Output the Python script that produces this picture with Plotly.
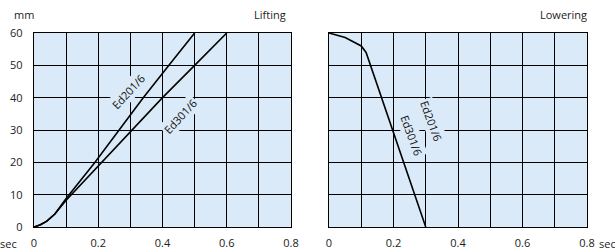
import plotly.graph_objects as go

# Data
lift_ed201_x = [0, 0.02, 0.04, 0.05, 0.065, 0.1, 0.19, 0.265, 0.34, 0.42, 0.5]
lift_ed201_y = [0, 0.7, 1.8, 2.7, 4.0, 8.8, 20, 30, 40, 50, 60]
lift_ed301_x = [0, 0.02, 0.04, 0.05, 0.065, 0.1, 0.21, 0.304, 0.4, 0.5, 0.6]
lift_ed301_y = [0, 0.7, 1.8, 2.7, 4.0, 8.3, 20, 30, 40, 50, 60]
lower_x = [0, 0.05, 0.1, 0.115, 0.3]
lower_y = [60, 58.6, 56, 54, 0]

x_tickvals = [0, 0.1, 0.2, 0.3, 0.4, 0.5, 0.6, 0.7, 0.8]
x_ticktext = ["0", "", "0.2", "", "0.4", "", "0.6", "", "0.8"]
y_tickvals = [0, 10, 20, 30, 40, 50, 60]
y_ticktext = ["0", "10", "20", "30", "40", "50", "60"]

BG = "#dbeaf8"
FONT = "Open Sans"
W, H = 615, 251

fig = go.Figure()
line = dict(color="black", width=1.6)
fig.add_trace(go.Scatter(x=lift_ed201_x, y=lift_ed201_y, mode="lines", line=line,
                         xaxis="x", yaxis="y", showlegend=False, hoverinfo="skip"))
fig.add_trace(go.Scatter(x=lift_ed301_x, y=lift_ed301_y, mode="lines", line=line,
                         xaxis="x", yaxis="y", showlegend=False, hoverinfo="skip"))
fig.add_trace(go.Scatter(x=lower_x, y=lower_y, mode="lines", line=line,
                         xaxis="x2", yaxis="y2", showlegend=False, hoverinfo="skip"))

ydom = [1 - 227 / H, 1 - 33 / H]
ax_common = dict(range=[0, 0.8], tickvals=x_tickvals, ticktext=x_ticktext,
                 showgrid=True, gridcolor="black", gridwidth=1.4,
                 showline=True, linecolor="black", linewidth=1.4, mirror=True,
                 zeroline=False, ticks="", ticklabelstandoff=6, automargin=False,
                 tickfont=dict(family=FONT, size=11, color="#222"))
ay_common = dict(range=[0, 60], tickvals=y_tickvals, ticktext=y_ticktext,
                 showgrid=True, gridcolor="black", gridwidth=1.4,
                 showline=True, linecolor="black", linewidth=1.4, mirror=True,
                 zeroline=False, ticks="", ticklabelstandoff=8, automargin=False,
                 tickfont=dict(family=FONT, size=11, color="#222"))

fig.update_layout(
    width=W, height=H, margin=dict(l=0, r=0, t=0, b=0, pad=0), autosize=False,
    paper_bgcolor="white", plot_bgcolor=BG,
    xaxis=dict(domain=[34 / W, 291 / W], anchor="y", **ax_common),
    yaxis=dict(domain=ydom, anchor="x", **ay_common),
    xaxis2=dict(domain=[329 / W, 587 / W], anchor="y2", **ax_common),
    yaxis2=dict(domain=ydom, anchor="x2", showticklabels=False,
                **{k: v for k, v in ay_common.items() if k not in ("tickfont",)}),
)

lab_font = dict(family=FONT, size=11, color="#111")
annots = [
    dict(x=0.293, y=42.0, xref="x", yref="y", text="Ed201/6", textangle=-47),
    dict(x=0.454, y=34.3, xref="x", yref="y", text="Ed301/6", textangle=-47),
    dict(x=0.316, y=32.8, xref="x2", yref="y2", text="Ed201/6", textangle=70),
    dict(x=0.257, y=28.4, xref="x2", yref="y2", text="Ed301/6", textangle=70),
]
for a in annots:
    fig.add_annotation(showarrow=False, font=lab_font, bgcolor=BG, borderpad=1, **a)

paper_font = dict(family=FONT, size=11, color="#222")
fig.add_annotation(x=12 / W, y=1 - 15 / H, xref="paper", yref="paper", text="mm",
                   showarrow=False, xanchor="left", yanchor="middle", font=paper_font)
fig.add_annotation(x=288 / W, y=1 - 15 / H, xref="paper", yref="paper", text="Lifting",
                   showarrow=False, xanchor="right", yanchor="middle", font=paper_font)
fig.add_annotation(x=589 / W, y=1 - 15 / H, xref="paper", yref="paper", text="Lowering",
                   showarrow=False, xanchor="right", yanchor="middle", font=paper_font)
fig.add_annotation(x=-2 / W, y=1 - 243 / H, xref="paper", yref="paper", text="sec",
                   showarrow=False, xanchor="left", yanchor="middle", font=paper_font)
fig.add_annotation(x=597 / W, y=1 - 243 / H, xref="paper", yref="paper", text="sec",
                   showarrow=False, xanchor="left", yanchor="middle", font=paper_font)

fig.write_html("out.html", config={"displayModeBar": False},
               post_script="document.body.style.margin='0';document.body.style.overflow='hidden';")
